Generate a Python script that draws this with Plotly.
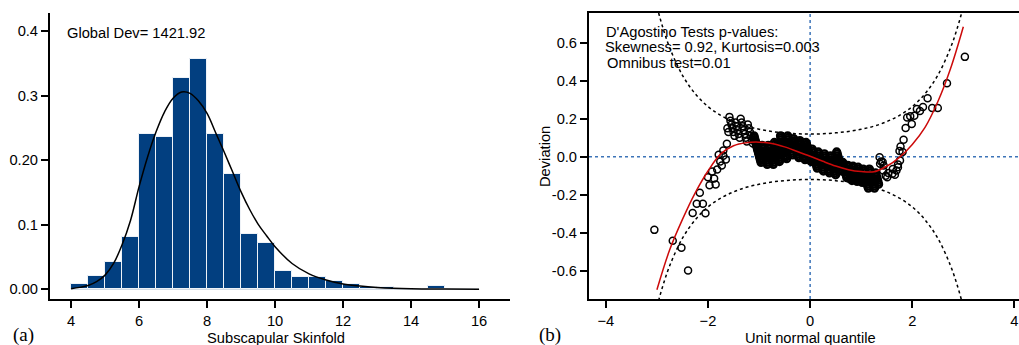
import plotly.graph_objects as go

W, H = 1019, 345

# ---------------- Panel (a): histogram data ----------------
bin_centers = [4.25, 4.75, 5.25, 5.75, 6.25, 6.75, 7.25, 7.75, 8.25, 8.75, 9.25, 9.75,
               10.25, 10.75, 11.25, 11.75, 12.25, 12.75, 13.25, 13.75, 14.25, 14.75, 15.25, 15.75]
bin_density = [0.009, 0.020, 0.042, 0.081, 0.240, 0.236, 0.327, 0.356, 0.240, 0.178, 0.086, 0.071,
               0.028, 0.019, 0.019, 0.013, 0.008, 0.004, 0.003, 0.0, 0.0, 0.005, 0.0, 0.0]
bin_width = 0.5

# fitted density curve
fit_x = [4.0, 4.25, 4.5, 4.75, 5.0, 5.25, 5.5, 5.75, 6.0, 6.25, 6.5, 6.75, 7.0, 7.25, 7.5, 7.75,
         8.0, 8.25, 8.5, 8.75, 9.0, 9.25, 9.5, 9.75, 10.0, 10.5, 11.0, 11.5, 12.0, 12.5, 13.0,
         14.0, 15.0, 16.0]
fit_y = [0.001, 0.003, 0.006, 0.012, 0.022, 0.040, 0.069, 0.107, 0.159, 0.205, 0.244, 0.275,
         0.296, 0.3055, 0.3035, 0.2916, 0.2725, 0.243, 0.213, 0.182, 0.151, 0.124, 0.101, 0.083,
         0.066, 0.040, 0.024, 0.0145, 0.0083, 0.005, 0.003, 0.001, 0.0004, 0.0001]

hist_yticks = [0.0, 0.1, 0.2, 0.3, 0.4]
hist_yticktext = ["0.00", "0.1", "0.20", "0.3", "0.4"]
hist_xticks = [4, 6, 8, 10, 12, 14, 16]

# ---------------- Panel (b): worm plot data ----------------
# tails (individual points)
tail_z = [-3.05, -2.69, -2.52, -2.39, -2.30, -2.22, -2.10, -2.05, -2.16, -1.97, -1.85, -1.88,
          -2.00, -1.92, -1.82, -1.73, -1.76, -1.65, -1.79, -1.70, -1.70, -1.63,
          3.03, 2.68, 2.50, 2.39, 2.30, 2.21, 2.15, 2.09, 2.04, 1.96, 1.90, 1.99, 1.87, 1.83,
          1.77, 1.75, 1.81, 1.72, 1.66, 1.62, 1.53, 1.48, 1.43, 1.37, 1.36, 1.39, 1.42, 1.44,
          1.51, 1.61, 1.69, 1.72, 1.76]
tail_dev = [-0.385, -0.442, -0.479, -0.599, -0.296, -0.247, -0.247, -0.298, -0.190, -0.150, -0.146, -0.115,
            -0.108, -0.078, -0.067, -0.046, -0.025, -0.014, 0.011, 0.033, 0.005, 0.069,
            0.526, 0.387, 0.257, 0.257, 0.308, 0.262, 0.241, 0.251, 0.216, 0.213, 0.207, 0.172, 0.151, 0.090,
            0.054, 0.030, 0.025, -0.041, -0.095, -0.065, -0.086, -0.100, -0.072, -0.037, -0.002, -0.025, -0.028, -0.046,
            -0.108, -0.090, -0.072, -0.055, -0.020]

# stacked columns (tied values) on the left shoulder
col_z = [-1.62, -1.60,
         -1.58, -1.56, -1.54, -1.52, -1.50, -1.48,
         -1.46, -1.44, -1.42, -1.40, -1.38,
         -1.36, -1.34, -1.32, -1.30, -1.28, -1.26, -1.24,
         -1.22, -1.20, -1.18, -1.16, -1.14, -1.12]
col_dev = [0.150, 0.130,
           0.210, 0.190, 0.170, 0.150, 0.130, 0.110,
           0.180, 0.160, 0.140, 0.120, 0.100,
           0.200, 0.180, 0.160, 0.140, 0.120, 0.100, 0.080,
           0.170, 0.150, 0.130, 0.110, 0.090, 0.070]

# dense centre of the worm
mid_z = [-1.10, -1.09, -1.08, -1.07, -1.06, -1.05, -1.04, -1.03, -1.02, -1.01, -1.00, -0.99, -0.98, -0.97, -0.96,
         -0.94, -0.93, -0.92, -0.91, -0.90, -0.89, -0.88, -0.87, -0.86, -0.85, -0.84,
         -0.82, -0.81, -0.80, -0.79, -0.78, -0.77, -0.76, -0.75, -0.74, -0.73, -0.72,
         -0.70, -0.69, -0.68, -0.67, -0.66, -0.65, -0.64, -0.63, -0.62, -0.61, -0.60,
         -0.58, -0.57, -0.56, -0.55, -0.54, -0.53, -0.52, -0.51, -0.50, -0.49, -0.48, -0.47, -0.46,
         -0.44, -0.43, -0.42, -0.41, -0.40, -0.39, -0.38, -0.37, -0.36, -0.35, -0.34,
         -0.32, -0.31, -0.30, -0.29, -0.28, -0.27, -0.26, -0.25, -0.24, -0.23, -0.22,
         -0.20, -0.19, -0.18, -0.17, -0.16, -0.15, -0.14, -0.13, -0.12, -0.11, -0.10,
         -0.08, -0.07, -0.06, -0.05, -0.04, -0.03, -0.02, -0.01, 0.00, 0.01, 0.02,
         0.04, 0.05, 0.06, 0.07, 0.08, 0.09, 0.10, 0.11, 0.12, 0.13, 0.14,
         0.16, 0.17, 0.18, 0.19, 0.20, 0.21, 0.22, 0.23, 0.24, 0.25, 0.26,
         0.28, 0.29, 0.30, 0.31, 0.32, 0.33, 0.34, 0.35, 0.36, 0.37, 0.38,
         0.40, 0.41, 0.42, 0.43, 0.44, 0.45, 0.46, 0.47, 0.48, 0.49, 0.50,
         0.52, 0.53, 0.54, 0.55, 0.56, 0.57, 0.58, 0.59, 0.60, 0.61, 0.62,
         0.64, 0.65, 0.66, 0.67, 0.68, 0.69, 0.70, 0.71, 0.72,
         0.74, 0.75, 0.76, 0.77, 0.78, 0.79, 0.80, 0.81, 0.82,
         0.84, 0.85, 0.86, 0.87, 0.88, 0.89, 0.90, 0.91, 0.92,
         0.94, 0.95, 0.96, 0.97, 0.98, 0.99, 1.00, 1.01, 1.02,
         1.04, 1.05, 1.06, 1.07, 1.08, 1.09, 1.10, 1.11, 1.12, 1.13, 1.14,
         1.16, 1.17, 1.18, 1.19, 1.20, 1.21, 1.22, 1.23, 1.24, 1.25, 1.26,
         1.28, 1.29, 1.30, 1.31, 1.32, 1.33, 1.34]
mid_dev = [0.110, 0.100, 0.090, 0.080, 0.070, 0.060, 0.050, 0.040, 0.030, 0.020, 0.010, 0.000, -0.010, -0.020, -0.030,
           0.060, 0.050, 0.040, 0.030, 0.020, 0.010, 0.000, -0.010, -0.020, -0.030, -0.040,
           0.060, 0.050, 0.040, 0.030, 0.020, 0.010, 0.000, -0.010, -0.020, -0.030, -0.040,
           0.075, 0.065, 0.055, 0.045, 0.035, 0.025, 0.015, 0.005, -0.005, -0.015, -0.025,
           0.110, 0.100, 0.090, 0.080, 0.070, 0.060, 0.050, 0.040, 0.030, 0.020, 0.010, 0.000, -0.010,
           0.110, 0.100, 0.090, 0.080, 0.070, 0.060, 0.050, 0.040, 0.030, 0.020, 0.010,
           0.095, 0.085, 0.075, 0.065, 0.055, 0.045, 0.035, 0.025, 0.015, 0.005, -0.005,
           0.085, 0.075, 0.065, 0.055, 0.045, 0.035, 0.025, 0.015, 0.005, -0.005, -0.015,
           0.075, 0.065, 0.055, 0.045, 0.035, 0.025, 0.015, 0.005, -0.005, -0.015, -0.025,
           0.040, 0.030, 0.020, 0.010, 0.000, -0.010, -0.020, -0.030, -0.040, -0.050, -0.060,
           0.025, 0.015, 0.005, -0.005, -0.015, -0.025, -0.035, -0.045, -0.055, -0.065, -0.075,
           0.015, 0.005, -0.005, -0.015, -0.025, -0.035, -0.045, -0.055, -0.065, -0.075, -0.085,
           0.005, -0.005, -0.015, -0.025, -0.035, -0.045, -0.055, -0.065, -0.075, -0.085, -0.095,
           0.025, 0.015, 0.005, -0.005, -0.015, -0.025, -0.035, -0.045, -0.055, -0.065, -0.075,
           -0.030, -0.040, -0.050, -0.060, -0.070, -0.080, -0.090, -0.100, -0.110,
           -0.045, -0.055, -0.065, -0.075, -0.085, -0.095, -0.105, -0.115, -0.125,
           -0.050, -0.060, -0.070, -0.080, -0.090, -0.100, -0.110, -0.120, -0.130,
           -0.055, -0.065, -0.075, -0.085, -0.095, -0.105, -0.115, -0.125, -0.135,
           -0.065, -0.075, -0.085, -0.095, -0.105, -0.115, -0.125, -0.135, -0.145, -0.155, -0.165,
           -0.065, -0.075, -0.085, -0.095, -0.105, -0.115, -0.125, -0.135, -0.145, -0.155, -0.165,
           -0.085, -0.095, -0.105, -0.115, -0.125, -0.135, -0.145]

# cubic fit (red)
fit3_z = [-3.0, -2.75, -2.5, -2.25, -2.0, -1.75, -1.5, -1.25, -1.0, -0.75, -0.5, -0.25, 0.0,
          0.25, 0.5, 0.75, 1.0, 1.25, 1.5, 1.75, 2.0, 2.25, 2.5, 2.75, 3.0]
fit3_dev = [-0.700, -0.490, -0.330, -0.190, -0.075, 0.015, 0.058, 0.074, 0.077, 0.070, 0.052, 0.028, 0.003,
            -0.024, -0.049, -0.068, -0.078, -0.079, -0.050, -0.003, 0.065, 0.155, 0.290, 0.465, 0.685]

# confidence band half-width (dotted)
band_z = [-3.1, -3.0, -2.9, -2.75, -2.5, -2.25, -2.0, -1.75, -1.5, -1.25, -1.0, -0.75, -0.5, -0.25, 0.0,
          0.25, 0.5, 0.75, 1.0, 1.25, 1.5, 1.75, 2.0, 2.25, 2.5, 2.75, 2.9, 3.0, 3.1]
band_se = [0.911, 0.793, 0.694, 0.574, 0.429, 0.332, 0.264, 0.218, 0.185, 0.161, 0.145, 0.133, 0.126, 0.121, 0.120,
           0.121, 0.126, 0.133, 0.145, 0.161, 0.185, 0.218, 0.264, 0.332, 0.429, 0.574, 0.694, 0.793, 0.911]

worm_xticks = [-4, -2, 0, 2, 4]
worm_yticks = [-0.6, -0.4, -0.2, 0.0, 0.2, 0.4, 0.6]
worm_yticktext = ["-0.6", "-0.4", "-0.2", "0.0", "0.2", "0.4", "0.6"]

# ---------------- Figure ----------------
FONT = "Liberation Sans, Arial, Helvetica, sans-serif"
FS = 14.7
BAR_BLUE = "#023f80"
DOT_BLUE = "#3d74b8"
RED = "#cc0a0a"

fig = go.Figure()

fig.add_trace(go.Bar(x=bin_centers, y=bin_density, width=bin_width,
                     marker=dict(color=BAR_BLUE, line=dict(color="#eef2f7", width=1.0)),
                     xaxis="x", yaxis="y", showlegend=False, hoverinfo="skip"))
fig.add_trace(go.Scatter(x=fit_x, y=fit_y, mode="lines", line=dict(color="black", width=1.5, shape="spline"),
                         xaxis="x", yaxis="y", showlegend=False))

band_lower = [-v for v in band_se]
fig.add_trace(go.Scatter(x=band_z, y=band_se, mode="lines",
                         line=dict(color="black", width=1.5, dash="dot", shape="spline"),
                         xaxis="x2", yaxis="y2", showlegend=False))
fig.add_trace(go.Scatter(x=band_z, y=band_lower, mode="lines",
                         line=dict(color="black", width=1.5, dash="dot", shape="spline"),
                         xaxis="x2", yaxis="y2", showlegend=False))
fig.add_trace(go.Scatter(x=col_z + tail_z, y=col_dev + tail_dev, mode="markers",
                         marker=dict(symbol="circle-open", size=7, color="black", line=dict(width=1.5)),
                         xaxis="x2", yaxis="y2", showlegend=False))
fig.add_trace(go.Scatter(x=mid_z, y=mid_dev, mode="markers",
                         marker=dict(symbol="circle-open", size=7, color="black", line=dict(width=2.3)),
                         xaxis="x2", yaxis="y2", showlegend=False))
fig.add_trace(go.Scatter(x=fit3_z, y=fit3_dev, mode="lines", line=dict(color=RED, width=1.5, shape="spline"),
                         xaxis="x2", yaxis="y2", showlegend=False))

def px_x(p):
    return p / W

def px_y(p):
    return 1 - p / H

tickfont = dict(family=FONT, size=FS, color="black")
common_axis = dict(showgrid=False, zeroline=False, showline=True, linecolor="black", linewidth=2,
                   ticks="outside", ticklen=7, tickwidth=1.5, tickcolor="black", tickfont=tickfont,
                   automargin=False)

fig.update_layout(
    width=W, height=H,
    margin=dict(l=0, r=0, t=0, b=0),
    paper_bgcolor="white", plot_bgcolor="white",
    font=dict(family=FONT, size=FS, color="black"),
    xaxis=dict(domain=[px_x(50), px_x(510)], range=[3.38, 16.91], tickvals=hist_xticks,
               anchor="y", **common_axis),
    yaxis=dict(domain=[px_y(299), px_y(13)], range=[-0.015, 0.428], tickvals=hist_yticks,
               ticktext=hist_yticktext, anchor="x", **common_axis),
    xaxis2=dict(domain=[px_x(589), 1.0], range=[-4.33, 4.09], tickvals=worm_xticks, anchor="y2",
                mirror=True, **common_axis),
    yaxis2=dict(domain=[px_y(299), px_y(13)], range=[-0.749, 0.757], tickvals=worm_yticks,
                ticktext=worm_yticktext, anchor="x2", mirror=True, **common_axis),
    bargap=0,
)

# reference lines
fig.add_shape(type="line", xref="x", yref="y", x0=4, x1=16, y0=0, y1=0,
              line=dict(color="#c9d3e0", width=1), layer="below")
fig.add_shape(type="line", xref="x2", yref="y2 domain", x0=0, x1=0, y0=0, y1=1,
              line=dict(color=DOT_BLUE, width=1.5, dash="dot"), layer="below")
fig.add_shape(type="line", xref="x2 domain", yref="y2", x0=0, x1=1, y0=0, y1=0,
              line=dict(color=DOT_BLUE, width=1.5, dash="dot"), layer="below")

def note(text, x, y, size=FS, xanchor="left", family=FONT, angle=0):
    fig.add_annotation(text=text, x=px_x(x), y=px_y(y), xref="paper", yref="paper",
                       xanchor=xanchor, yanchor="middle", showarrow=False, textangle=angle,
                       font=dict(family=family, size=size, color="black"))

note("Global Dev= 1421.92", 65, 33)
note("D'Agostino Tests p-values:", 604, 31.5)
note("Skewness= 0.92, Kurtosis=0.003", 602.5, 47)
note("Omnibus test=0.01", 604.5, 62.5)
note("Subscapular Skinfold", 276, 338, xanchor="center")
note("Unit normal quantile", 810, 338, xanchor="center")
note("Deviation", 545, 157, xanchor="center", angle=-90)
serif = "Liberation Serif, Times New Roman, serif"
note("(a)", 23, 335, size=19, xanchor="center", family=serif)
note("(b)", 550, 335, size=19, xanchor="center", family=serif)

fig.write_html("out.html", config={"displayModeBar": False},
               post_script="document.body.style.margin='0px';document.body.style.overflow='hidden';")
